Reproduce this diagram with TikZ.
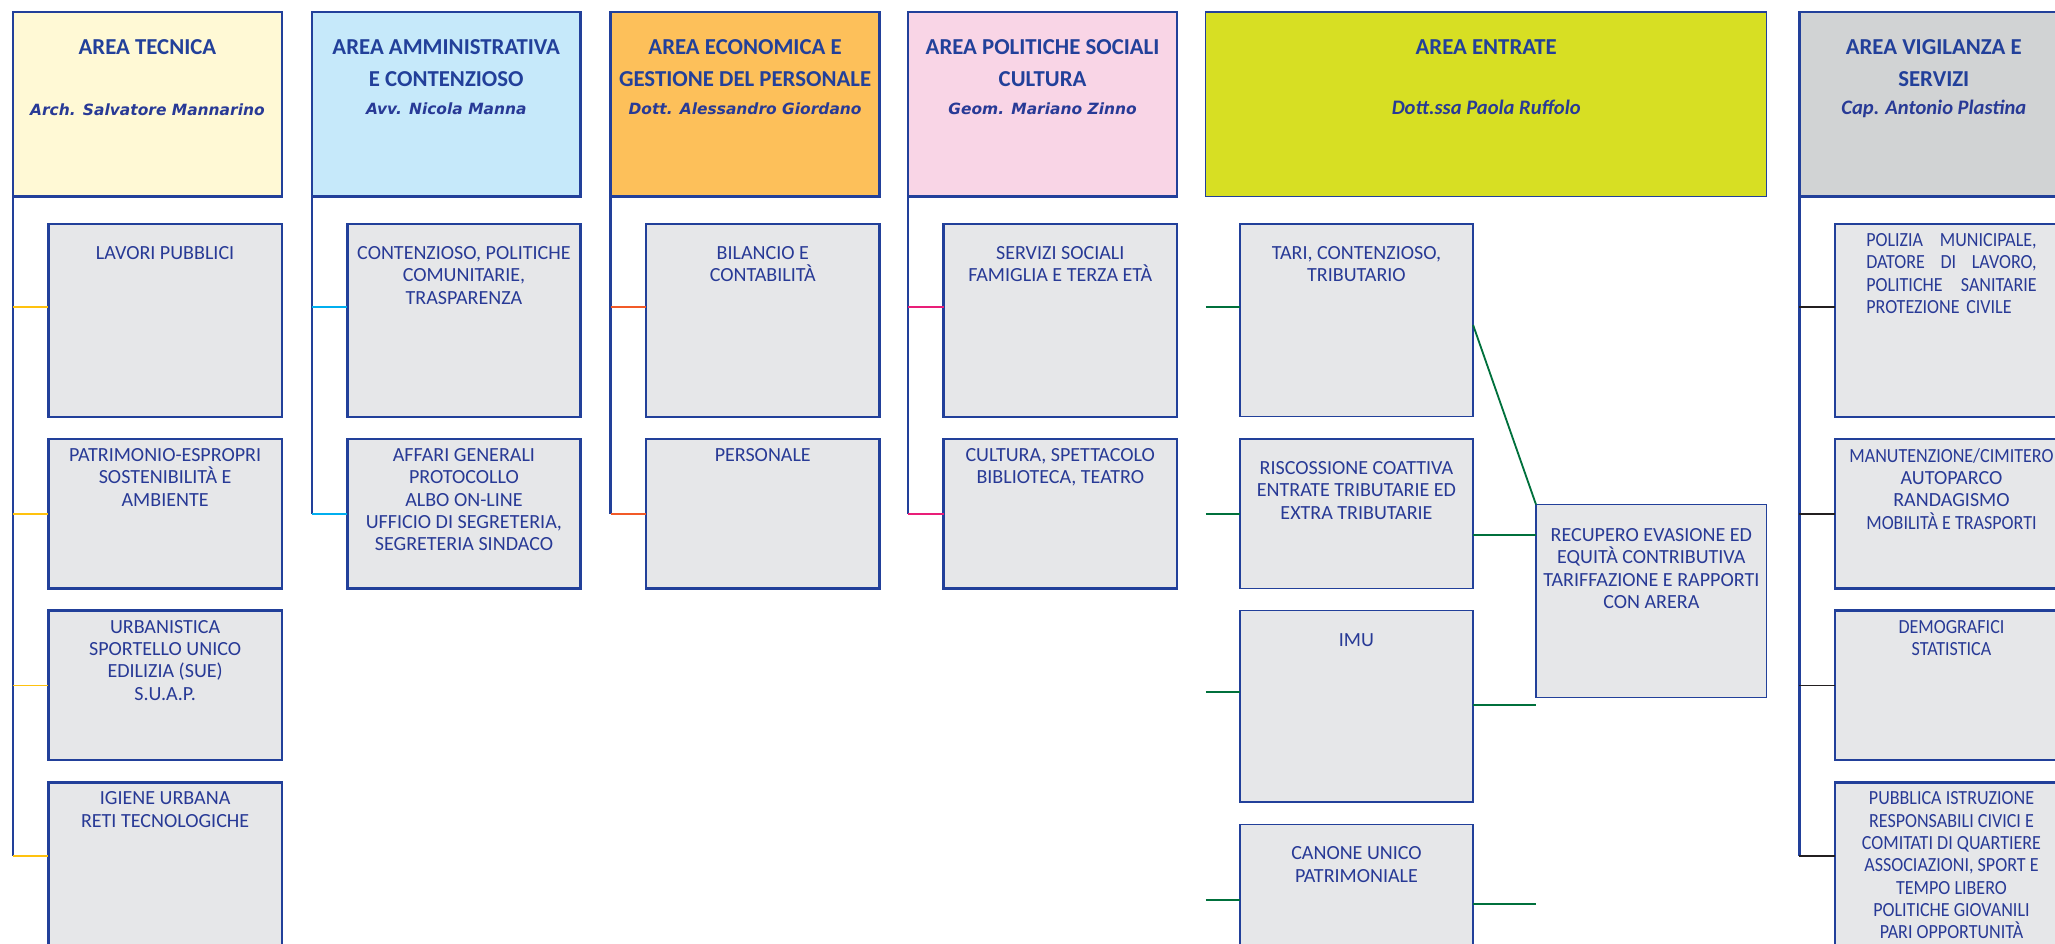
\documentclass[tikz,border=0pt]{standalone}
\usepackage{fontspec}
\setmainfont{Carlito}
\newfontfamily\namefont{DejaVu Sans}
\newfontfamily\condfont[FakeStretch=0.9]{Carlito}
\usetikzlibrary{positioning}

\definecolor{areablue}{RGB}{34,64,154}
\definecolor{textblue}{RGB}{40,58,150}
\definecolor{subgray}{RGB}{230,231,233}
\definecolor{tecfill}{RGB}{255,249,213}
\definecolor{ammfill}{RGB}{198,233,250}
\definecolor{ecofill}{RGB}{253,192,90}
\definecolor{polfill}{RGB}{249,213,230}
\definecolor{entfill}{RGB}{215,223,35}
\definecolor{vigfill}{RGB}{209,211,212}
\definecolor{tecline}{RGB}{255,194,14}
\definecolor{ammline}{RGB}{0,174,239}
\definecolor{ecoline}{RGB}{242,90,40}
\definecolor{polline}{RGB}{233,30,120}
\definecolor{entline}{RGB}{0,112,60}
\definecolor{vigline}{RGB}{35,31,32}

\tikzset{
  areabox/.style={draw=areablue, line width=1.9pt, anchor=north west, outer sep=0pt, inner sep=0pt, minimum width=205pt, minimum height=141pt},
  subbox/.style={draw=areablue, line width=1.9pt, fill=subgray, anchor=north west, outer sep=0pt, inner sep=0pt, minimum width=178pt},
  toprow/.style={minimum height=147pt},
  lowrow/.style={minimum height=114pt},
  thinline/.style={line width=1.1pt},
  areatitle/.style={text=areablue, font=\fontsize{17.4}{24.2}\selectfont\bfseries, align=center, inner sep=0pt},
  areaname/.style={text=textblue, font=\namefont\fontsize{11.8}{14}\selectfont\bfseries\itshape, anchor=base, inner sep=0pt},
  areaname2/.style={text=textblue, font=\fontsize{15.7}{18}\selectfont\bfseries\itshape, anchor=base, inner sep=0pt},
  subtext/.style={text=textblue, font=\fontsize{15.3}{17}\selectfont, align=center, inner sep=0pt},
  condtext/.style={subtext, font=\condfont\fontsize{15.3}{17}\selectfont},
  vline/.style={draw=areablue, line width=1.9pt},
  stub/.style={line width=1.4pt},
}

\begin{document}
\begin{tikzpicture}[x=1pt, y=-1pt]
  \useasboundingbox (0,0) rectangle (1568,720);
  \clip (0,0) rectangle (1568,720);

  % area headers
  \node (tecnica) [areabox, fill=tecfill] at (10,9) {};
  \node (ammin) [areabox, fill=ammfill] at (238,9) {};
  \node (econ) [areabox, fill=ecofill] at (466,9) {};
  \node (polit) [areabox, fill=polfill] at (693,9) {};
  \node (entrate) [areabox, thinline, fill=entfill, minimum width=428pt] at (920,9) {};
  \node (vigil) [areabox, fill=vigfill] at (1373,9) {};

  \node (tecnica-t) [areatitle, below=21pt of tecnica.north] {AREA TECNICA};
  \node (ammin-t) [areatitle, below=21pt of ammin.north] {AREA AMMINISTRATIVA\\E CONTENZIOSO};
  \node (econ-t) [areatitle, below=21pt of econ.north] {AREA ECONOMICA E\\GESTIONE DEL PERSONALE};
  \node (polit-t) [areatitle, below=21pt of polit.north] {AREA POLITICHE SOCIALI\\CULTURA};
  \node (entrate-t) [areatitle, below=21pt of entrate.north] {AREA ENTRATE};
  \node (vigil-t) [areatitle, below=21pt of vigil.north] {AREA VIGILANZA E\\SERVIZI};

  \node (tecnica-n) [areaname] at (tecnica.north |- 0,88) {Arch. Salvatore Mannarino};
  \node (ammin-n) [areaname] at (ammin.north |- 0,87) {Avv. Nicola Manna};
  \node (econ-n) [areaname] at (econ.north |- 0,87) {Dott. Alessandro Giordano};
  \node (polit-n) [areaname] at (polit.north |- 0,87) {Geom. Mariano Zinno};
  \node (entrate-n) [areaname2] at (entrate.north |- 0,87) {Dott.ssa Paola Ruffolo};
  \node (vigil-n) [areaname2] at (vigil.north |- 0,87) {Cap. Antonio Plastina};

  % area tecnica
  \node (lavori) [subbox, toprow] at (37,171) {};
  \node (patrimonio) [subbox, lowrow] at (37,335) {};
  \node (urbanistica) [subbox, lowrow] at (37,466) {};
  \node (igiene) [subbox, toprow] at (37,597) {};
  \node (lavori-t) [subtext, below=17pt of lavori.north] {LAVORI PUBBLICI};
  \node (patrimonio-t) [subtext, below=7pt of patrimonio.north] {PATRIMONIO-ESPROPRI\\SOSTENIBILITÀ E\\AMBIENTE};
  \node (urbanistica-t) [subtext, below=7pt of urbanistica.north] {URBANISTICA\\SPORTELLO UNICO\\EDILIZIA (SUE)\\S.U.A.P.};
  \node (igiene-t) [subtext, below=7pt of igiene.north] {IGIENE URBANA\\RETI TECNOLOGICHE};

  % area amministrativa
  \node (contenzioso) [subbox, toprow] at (265,171) {};
  \node (affari) [subbox, lowrow] at (265,335) {};
  \node (contenzioso-t) [subtext, below=17pt of contenzioso.north] {CONTENZIOSO, POLITICHE\\COMUNITARIE,\\TRASPARENZA};
  \node (affari-t) [subtext, below=7pt of affari.north] {AFFARI GENERALI\\PROTOCOLLO\\ALBO ON-LINE\\UFFICIO DI SEGRETERIA,\\SEGRETERIA SINDACO};

  % area economica
  \node (bilancio) [subbox, toprow] at (493,171) {};
  \node (personale) [subbox, lowrow] at (493,335) {};
  \node (bilancio-t) [subtext, below=17pt of bilancio.north] {BILANCIO E\\CONTABILITÀ};
  \node (personale-t) [subtext, below=7pt of personale.north] {PERSONALE};

  % area politiche sociali
  \node (sociali) [subbox, toprow] at (720,171) {};
  \node (cultura) [subbox, lowrow] at (720,335) {};
  \node (sociali-t) [subtext, below=17pt of sociali.north] {SERVIZI SOCIALI\\FAMIGLIA E TERZA ETÀ};
  \node (cultura-t) [subtext, below=7pt of cultura.north] {CULTURA, SPETTACOLO\\BIBLIOTECA, TEATRO};

  % area entrate
  \node (tari) [subbox, thinline, toprow] at (946,171) {};
  \node (riscossione) [subbox, thinline, lowrow] at (946,335) {};
  \node (imu) [subbox, thinline, minimum height=146pt] at (946,466) {};
  \node (canone) [subbox, thinline, toprow] at (946,629) {};
  \node (recupero) [subbox, thinline, minimum width=176pt, minimum height=147pt] at (1172,385) {};
  \node (tari-t) [subtext, below=17pt of tari.north] {TARI, CONTENZIOSO,\\TRIBUTARIO};
  \node (riscossione-t) [subtext, below=17pt of riscossione.north] {RISCOSSIONE COATTIVA\\ENTRATE TRIBUTARIE ED\\EXTRA TRIBUTARIE};
  \node (imu-t) [subtext, below=17pt of imu.north] {IMU};
  \node (canone-t) [subtext, below=17pt of canone.north] {CANONE UNICO\\PATRIMONIALE};
  \node (recupero-t) [subtext, below=18pt of recupero.north] {RECUPERO EVASIONE ED\\EQUITÀ CONTRIBUTIVA\\TARIFFAZIONE E RAPPORTI\\CON ARERA};

  % area vigilanza
  \node (polizia) [subbox, toprow] at (1400,171) {};
  \node (manutenzione) [subbox, lowrow] at (1400,335) {};
  \node (demografici) [subbox, lowrow] at (1400,466) {};
  \node (istruzione) [subbox, toprow] at (1400,597) {};
  \node (polizia-t) [condtext, align=left, text width=130pt, below=7pt of polizia.north] {POLIZIA\hfill MUNICIPALE,\\DATORE\hfill DI\hfill LAVORO,\\POLITICHE\hfill SANITARIE\\PROTEZIONE CIVILE};
  \node (manutenzione-t) [condtext, below=7pt of manutenzione.north] {MANUTENZIONE/CIMITERO\\{\normalfont AUTOPARCO}\\{\normalfont RANDAGISMO}\\MOBILITÀ E TRASPORTI};
  \node (demografici-t) [condtext, below=7pt of demografici.north] {DEMOGRAFICI\\STATISTICA};
  \node (istruzione-t) [condtext, below=7pt of istruzione.north] {PUBBLICA ISTRUZIONE\\RESPONSABILI CIVICI E\\COMITATI DI QUARTIERE\\ASSOCIAZIONI, SPORT E\\TEMPO LIBERO\\POLITICHE GIOVANILI\\PARI OPPORTUNITÀ};

  % attachment points
  \coordinate (lavori-in) at (lavori.west |- 0,234);
  \coordinate (patrimonio-in) at (patrimonio.west |- 0,392);
  \coordinate (urbanistica-in) at (urbanistica.west |- 0,523);
  \coordinate (igiene-in) at (igiene.west |- 0,653);
  \coordinate (contenzioso-in) at (contenzioso.west |- 0,234);
  \coordinate (affari-in) at (affari.west |- 0,392);
  \coordinate (bilancio-in) at (bilancio.west |- 0,234);
  \coordinate (personale-in) at (personale.west |- 0,392);
  \coordinate (sociali-in) at (sociali.west |- 0,234);
  \coordinate (cultura-in) at (cultura.west |- 0,392);
  \coordinate (tari-in) at (tari.west |- 0,234);
  \coordinate (riscossione-in) at (riscossione.west |- 0,392);
  \coordinate (imu-in) at (imu.west |- 0,528);
  \coordinate (canone-in) at (canone.west |- 0,687);
  \coordinate (polizia-in) at (polizia.west |- 0,234);
  \coordinate (manutenzione-in) at (manutenzione.west |- 0,392);
  \coordinate (demografici-in) at (demografici.west |- 0,523);
  \coordinate (istruzione-in) at (istruzione.west |- 0,653);
  \coordinate (tari-out) at (tari.east |- 0,248);
  \coordinate (riscossione-out) at (riscossione.east |- 0,408);
  \coordinate (imu-out) at (imu.east |- 0,538);
  \coordinate (canone-out) at (canone.east |- 0,690);

  % connectors
  \draw [vline] (tecnica.south west) -- (tecnica.south west |- igiene-in);
  \draw [vline] (ammin.south west) -- (ammin.south west |- affari-in);
  \draw [vline] (econ.south west) -- (econ.south west |- personale-in);
  \draw [vline] (polit.south west) -- (polit.south west |- cultura-in);
  \draw [vline] (vigil.south west) -- (vigil.south west |- istruzione-in);

  \draw [stub, tecline] (tecnica.south west |- lavori-in) -- (lavori-in);
  \draw [stub, tecline] (tecnica.south west |- patrimonio-in) -- (patrimonio-in);
  \draw [stub, tecline] (tecnica.south west |- urbanistica-in) -- (urbanistica-in);
  \draw [stub, tecline] (tecnica.south west |- igiene-in) -- (igiene-in);
  \draw [stub, ammline] (ammin.south west |- contenzioso-in) -- (contenzioso-in);
  \draw [stub, ammline] (ammin.south west |- affari-in) -- (affari-in);
  \draw [stub, ecoline] (econ.south west |- bilancio-in) -- (bilancio-in);
  \draw [stub, ecoline] (econ.south west |- personale-in) -- (personale-in);
  \draw [stub, polline] (polit.south west |- sociali-in) -- (sociali-in);
  \draw [stub, polline] (polit.south west |- cultura-in) -- (cultura-in);
  \draw [stub, entline] (entrate.south west |- tari-in) -- (tari-in);
  \draw [stub, entline] (entrate.south west |- riscossione-in) -- (riscossione-in);
  \draw [stub, entline] (entrate.south west |- imu-in) -- (imu-in);
  \draw [stub, entline] (entrate.south west |- canone-in) -- (canone-in);
  \draw [stub, vigline] (vigil.south west |- polizia-in) -- (polizia-in);
  \draw [stub, vigline] (vigil.south west |- manutenzione-in) -- (manutenzione-in);
  \draw [stub, vigline] (vigil.south west |- demografici-in) -- (demografici-in);
  \draw [stub, vigline] (vigil.south west |- istruzione-in) -- (istruzione-in);

  \draw [stub, entline] (tari-out) -- (recupero.north west);
  \draw [stub, entline] (riscossione-out) -- (recupero.west |- riscossione-out);
  \draw [stub, entline] (imu-out) -- (recupero.west |- imu-out);
  \draw [stub, entline] (canone-out) -- (recupero.west |- canone-out);
\end{tikzpicture}
\end{document}
